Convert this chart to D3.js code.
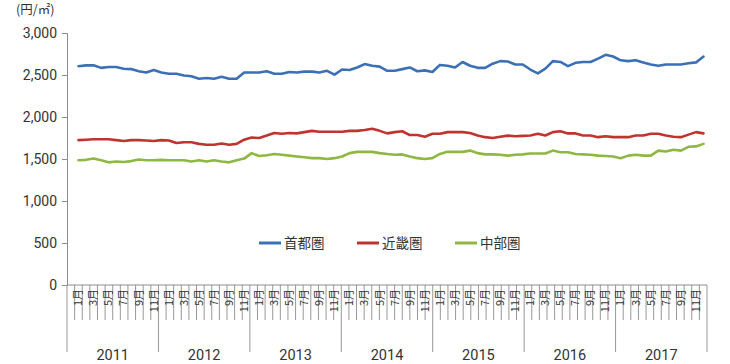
<!DOCTYPE html>
<html><head><meta charset="utf-8">
<script src="https://cdnjs.cloudflare.com/ajax/libs/d3/7.8.5/d3.min.js"></script>
<style>
html,body{margin:0;padding:0;background:#fff;}
svg{display:block;font-family:"Noto Sans CJK JP","Noto Sans",sans-serif;}
.yr{font-family:Roboto,"Noto Sans",sans-serif;font-size:14.5px;}
.yt{font-family:Roboto,"Noto Sans",sans-serif;font-size:14px;}
</style></head>
<body><svg id="c" width="730" height="364"></svg>
<script>
const years = ["2011","2012","2013","2014","2015","2016","2017"];
const monthNames = ["1月","2月","3月","4月","5月","6月","7月","8月","9月","10月","11月","12月"];
const seriesNames = ["首都圏","近畿圏","中部圏"];
const seriesColors = ["#3b70b6","#c0342f","#8fb843"];
const yTicks = [0,500,1000,1500,2000,2500,3000];
const yUnit = "(円/㎡)";

const shuto = [2605,2615,2615,2585,2595,2595,2575,2570,2545,2530,2560,2530,
  2515,2515,2495,2485,2455,2465,2455,2480,2455,2455,2530,2530,
  2530,2545,2515,2515,2535,2530,2540,2540,2530,2550,2505,2565,
  2560,2590,2630,2610,2600,2550,2550,2570,2590,2545,2555,2535,
  2620,2610,2590,2655,2610,2585,2585,2635,2665,2660,2625,2625,
  2565,2520,2575,2665,2655,2605,2645,2655,2655,2695,2740,2720,
  2675,2665,2675,2650,2625,2610,2625,2625,2625,2640,2650,2720];
const kinki = [1725,1730,1735,1735,1735,1725,1715,1725,1725,1720,1715,1725,
  1720,1690,1700,1700,1680,1670,1670,1685,1670,1680,1730,1755,
  1750,1780,1810,1800,1810,1805,1820,1835,1825,1825,1825,1825,
  1835,1835,1845,1860,1835,1805,1820,1830,1785,1785,1765,1800,
  1800,1820,1820,1820,1810,1780,1760,1750,1765,1778,1770,1775,
  1780,1800,1780,1820,1830,1805,1805,1780,1780,1760,1770,1760,
  1760,1760,1780,1780,1800,1800,1780,1765,1760,1790,1820,1805];
const chubu = [1485,1490,1505,1485,1460,1470,1465,1475,1495,1485,1485,1490,
  1485,1485,1485,1470,1485,1470,1485,1470,1460,1485,1505,1570,
  1535,1545,1560,1550,1540,1530,1520,1510,1510,1500,1510,1530,
  1570,1585,1585,1585,1570,1560,1550,1555,1530,1510,1500,1510,
  1560,1585,1585,1585,1600,1570,1555,1555,1550,1540,1550,1555,
  1565,1565,1565,1600,1580,1580,1560,1555,1550,1540,1535,1530,
  1510,1540,1550,1540,1540,1600,1590,1610,1600,1645,1650,1680];

const seriesValues = [shuto,kinki,chubu];
const months = [];
years.forEach(y => monthNames.forEach((m,mi) => months.push({year:y, month:m, mi:mi})));

const svg = d3.select("#c");
const axisColor = "#8c8c8c";
const textColor = "#333";

const y = d3.scaleLinear().domain([0,3000]).range([285,33]);
const band = d3.scaleBand().domain(d3.range(months.length)).range([67,707]).paddingInner(0).paddingOuter(0);
const x = d3.scaleLinear().domain([0,months.length-1]).range([78.5,703.5]);

// y axis
const yAxis = d3.axisLeft(y).tickValues(yTicks).tickSize(5).tickPadding(5).tickFormat(d3.format(","));
const gy = svg.append("g").attr("transform","translate(67,0)").call(yAxis);
gy.attr("font-family",null).attr("font-size",null);
gy.select(".domain").attr("stroke",axisColor);
gy.selectAll(".tick line").attr("stroke",axisColor);
gy.selectAll(".tick text").attr("fill",textColor).attr("class","yt");

svg.append("text").attr("x",16).attr("y",14).attr("fill",textColor)
  .style("font-size","12.5px").text(yUnit);

// x axis line
svg.append("line").attr("x1",67).attr("x2",707).attr("y1",285).attr("y2",285).attr("stroke",axisColor);

// separators
const bounds = d3.range(months.length+1);
svg.append("g").selectAll("line").data(bounds).join("line")
  .attr("x1",k => k<months.length ? band(k) : band(k-1)+band.bandwidth())
  .attr("x2",k => k<months.length ? band(k) : band(k-1)+band.bandwidth())
  .attr("y1",285)
  .attr("y2",k => k%12===0 ? 352 : 320)
  .attr("stroke",axisColor).attr("stroke-width",0.9);

// month labels (odd months)
svg.append("g").selectAll("text").data(months.map((m,i)=>({...m,i})).filter(d=>d.mi%2===0)).join("text")
  .attr("transform",d=>`translate(${x(d.i)+3.8},289) rotate(-90)`)
  .attr("text-anchor","end")
  .attr("fill",textColor)
  .style("font-size","11px")
  .text(d=>d.month);

// year labels
svg.append("g").selectAll("text").data(years).join("text")
  .attr("class","yr")
  .attr("x",(d,i)=>band(i*12) + band.bandwidth()*6)
  .attr("y",360)
  .attr("text-anchor","middle")
  .attr("fill",textColor)
  .text(d=>d);

// lines
const line = d3.line().x((d,i)=>x(i)).y(d=>y(d)).curve(d3.curveLinear);
seriesValues.forEach((vals,si)=>{
  svg.append("path").datum(vals).attr("d",line)
    .attr("fill","none").attr("stroke",seriesColors[si]).attr("stroke-width",2.6)
    .attr("stroke-linejoin","round").attr("stroke-linecap","round");
});

// legend
const legendX = [259,357,455];
const lg = svg.append("g").selectAll("g").data(seriesNames).join("g")
  .attr("transform",(d,i)=>`translate(${legendX[i]},243)`);
lg.append("line").attr("x1",0).attr("x2",22).attr("y1",0).attr("y2",0)
  .attr("stroke",(d,i)=>seriesColors[i]).attr("stroke-width",3);
lg.append("text").attr("x",25).attr("y",5).attr("fill",textColor)
  .style("font-size","13.5px").text(d=>d);
</script></body></html>
